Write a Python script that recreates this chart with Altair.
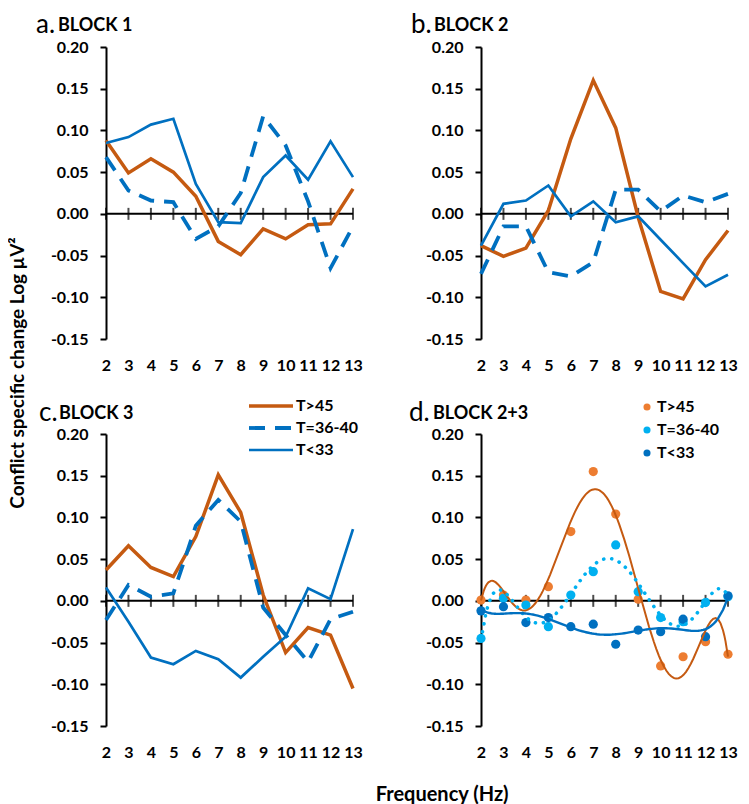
import altair as alt
import pandas as pd

freqs = list(range(2, 14))
series_names = ["T>45", "T=36-40", "T<33"]

# Block 1
a_t45 = [0.088, 0.049, 0.066, 0.050, 0.021, -0.033, -0.049, -0.018, -0.030, -0.013, -0.012, 0.030]
a_t36 = [0.068, 0.028, 0.016, 0.014, -0.030, -0.015, 0.025, 0.117, 0.082, 0.015, -0.065, -0.015]
a_t33 = [0.085, 0.092, 0.107, 0.114, 0.036, -0.010, -0.011, 0.044, 0.070, 0.041, 0.087, 0.044]
# Block 2
b_t45 = [-0.038, -0.051, -0.041, 0.004, 0.090, 0.160, 0.103, -0.004, -0.093, -0.102, -0.055, -0.020]
b_t36 = [-0.072, -0.015, -0.015, -0.070, -0.075, -0.058, 0.029, 0.029, 0.003, 0.022, 0.014, 0.024]
b_t33 = [-0.038, 0.012, 0.016, 0.034, -0.003, 0.015, -0.010, -0.003, -0.031, -0.059, -0.087, -0.073]
# Block 3
c_t45 = [0.037, 0.066, 0.040, 0.029, 0.077, 0.151, 0.106, 0.007, -0.062, -0.032, -0.041, -0.105]
c_t36 = [-0.023, 0.019, 0.005, 0.009, 0.090, 0.121, 0.095, -0.008, -0.041, -0.073, -0.022, -0.013]
c_t33 = [0.016, -0.025, -0.068, -0.076, -0.060, -0.070, -0.092, -0.067, -0.043, 0.015, 0.002, 0.086]
# Block 2+3
d_t45 = [0.001, 0.007, 0.001, 0.017, 0.083, 0.155, 0.104, 0.002, -0.078, -0.067, -0.049, -0.064]
d_t36 = [-0.045, 0.003, -0.005, -0.031, 0.007, 0.035, 0.067, 0.011, -0.020, -0.025, -0.002, 0.005]
d_t33 = [-0.012, -0.007, -0.026, -0.020, -0.031, -0.028, -0.052, -0.035, -0.037, -0.022, -0.043, 0.006]

y_ticks = [-0.15, -0.10, -0.05, 0.00, 0.05, 0.10, 0.15, 0.20]

ORANGE = "#C55A11"
BLUE = "#0070C0"
P_ORANGE = "#ED7D31"
P_LIGHT = "#00B0F0"
P_DARK = "#0070C0"
FONT = "Lato"
W, H = 247, 292

x_enc = alt.X(
    "f:Q",
    scale=alt.Scale(domain=[2, 13], nice=False, zero=False),
    title=None,
    axis=alt.Axis(values=freqs, format="d", domain=False, ticks=False, grid=False,
                  labelPadding=18, labelFont=FONT, labelFontWeight="bold",
                  labelFontSize=16, labelColor="black", labelOverlap=False,
                  labelFlush=False),
)
y_enc = alt.Y(
    "v:Q",
    scale=alt.Scale(domain=[-0.15, 0.20], nice=False, zero=False),
    title=None,
    axis=alt.Axis(values=y_ticks,
                  labelExpr="replace(format(datum.value, '.2f'), '\u2212', '-')",
                  grid=False, domainColor="black", domainWidth=2,
                  tickColor="black", tickWidth=2, tickSize=6, labelPadding=12,
                  labelFont=FONT, labelFontWeight="bold", labelFontSize=16,
                  labelColor="black", labelFlush=False, labelOverlap=False),
)


def sdf(vals):
    return pd.DataFrame({"f": freqs, "v": vals})


def axis_layers():
    zero = alt.Chart(pd.DataFrame({"f": [2], "v": [0.0]})).mark_rule(
        color="black", strokeWidth=2).encode(y=y_enc)
    ticks = alt.Chart(pd.DataFrame({"f": freqs, "v": [0.0] * len(freqs)})).mark_tick(
        orient="vertical", size=12, thickness=2, color="black").encode(x=x_enc, y=y_enc)
    return [zero, ticks]


def title_layers(letter, name, lx, bx, ty):
    t1 = alt.Chart(pd.DataFrame({"t": [letter]})).mark_text(
        align="left", baseline="middle", font=FONT, fontSize=26, color="black").encode(
        text="t:N", x=alt.value(lx), y=alt.value(ty))
    t2 = alt.Chart(pd.DataFrame({"t": [name]})).mark_text(
        align="left", baseline="middle", font=FONT, fontSize=18, fontWeight="bold",
        color="black").encode(text="t:N", x=alt.value(bx), y=alt.value(ty + 1))
    return [t1, t2]


line_styles = [
    dict(color=ORANGE, strokeWidth=3.5),
    dict(color=BLUE, strokeWidth=3.8, strokeDash=[16, 10]),
    dict(color=BLUE, strokeWidth=2.7),
]


def line_panel(vals, letter, name, lx, bx, ty, legend=False):
    layers = axis_layers()
    for v, st in zip(vals, line_styles):
        layers.append(alt.Chart(sdf(v)).mark_line(**st).encode(x=x_enc, y=y_enc))
    layers += title_layers(letter, name, lx, bx, ty)
    if legend:
        ly = [-28, -6, 16]
        for nm, st, yy in zip(series_names, line_styles, ly):
            layers.append(alt.Chart(pd.DataFrame({"t": [nm]})).mark_rule(**st).encode(
                x=alt.value(143), x2=alt.value(187), y=alt.value(yy)))
            layers.append(alt.Chart(pd.DataFrame({"t": [nm]})).mark_text(
                align="left", baseline="middle", font=FONT, fontSize=16,
                fontWeight="bold", color="black").encode(
                text="t:N", x=alt.value(190), y=alt.value(yy)))
    return alt.layer(*layers).properties(width=W, height=H)


def trend_panel(vals, letter, name, lx, bx, ty):
    layers = axis_layers()
    pt_cols = [P_ORANGE, P_LIGHT, P_DARK]
    trend_styles = [
        dict(color=ORANGE, strokeWidth=2),
        dict(color=P_LIGHT, strokeWidth=3.6, strokeDash=[0.1, 8], strokeCap="round"),
        dict(color=BLUE, strokeWidth=2.4),
    ]
    for v, c in zip(vals, pt_cols):
        layers.append(alt.Chart(sdf(v)).mark_circle(size=85, color=c, opacity=1).encode(
            x=x_enc, y=y_enc))
    for v, st in zip(vals, trend_styles):
        layers.append(alt.Chart(sdf(v)).transform_regression(
            "f", "v", method="poly", order=6).mark_line(**st).encode(x=x_enc, y=y_enc))
    layers += title_layers(letter, name, lx, bx, ty)
    ly = [-27, -4, 19]
    for nm, c, yy in zip(series_names, pt_cols, ly):
        layers.append(alt.Chart(pd.DataFrame({"t": [nm]})).mark_circle(
            size=50, color=c, opacity=1).encode(x=alt.value(166), y=alt.value(yy)))
        layers.append(alt.Chart(pd.DataFrame({"t": [nm]})).mark_text(
            align="left", baseline="middle", font=FONT, fontSize=16,
            fontWeight="bold", color="black").encode(
            text="t:N", x=alt.value(176), y=alt.value(yy)))
    return alt.layer(*layers).properties(width=W, height=H)


pa = line_panel([a_t45, a_t36, a_t33], "a.", "BLOCK 1", -70, -48, -22)
pb = line_panel([b_t45, b_t36, b_t33], "b.", "BLOCK 2", -70, -47, -22)
pc = line_panel([c_t45, c_t36, c_t33], "c.", "BLOCK 3", -67, -47, -21, legend=True)
pd_ = trend_panel([d_t45, d_t36, d_t33], "d.", "BLOCK 2+3", -72, -48, -21)

grid = alt.concat(
    pa, pb, pc, pd_, columns=2, bounds="flush",
    spacing=alt.RowColnumber(row=95, column=128),
    title=alt.TitleParams("Conflict specific change Log µV²", orient="left",
                          anchor="middle", font=FONT, fontSize=19,
                          fontWeight="bold", color="black", offset=8, dx=13),
)
chart = alt.vconcat(
    grid,
    title=alt.TitleParams("Frequency (Hz)", orient="bottom", anchor="middle",
                          font=FONT, fontSize=20, fontWeight="bold",
                          color="black", offset=25, dx=69),
    padding={"left": 0, "top": 4, "right": 0, "bottom": 0},
).configure_view(stroke=None)

chart.save("out.html", embed_options={"renderer": "svg", "actions": False})
